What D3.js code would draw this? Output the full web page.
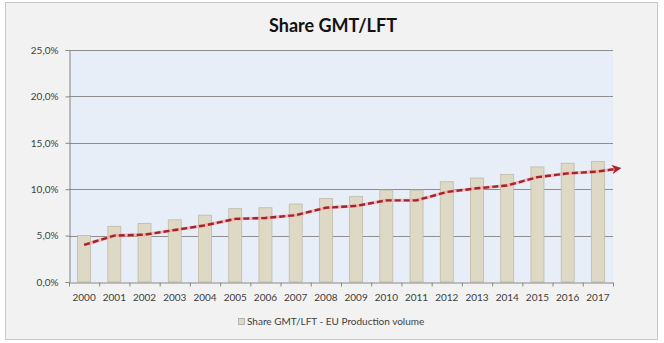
<!DOCTYPE html>
<html>
<head>
<meta charset="utf-8">
<script src="https://cdn.jsdelivr.net/npm/d3@7"></script>
<style>
  html, body { margin: 0; padding: 0; background: #ffffff; }
  svg { display: block; }
</style>
</head>
<body>
<svg id="chart" width="664" height="343"></svg>
<script>
// ---- data ----
const years = ["2000","2001","2002","2003","2004","2005","2006","2007","2008","2009",
               "2010","2011","2012","2013","2014","2015","2016","2017"];
const shareValues = [0.050,0.060,0.063,0.067,0.072,0.079,0.080,0.084,0.090,0.092,
                     0.099,0.099,0.108,0.112,0.116,0.124,0.128,0.130];
const trendValues = [0.040,0.050,0.051,0.056,0.061,0.068,0.069,0.072,0.080,0.082,
                     0.088,0.088,0.097,0.101,0.104,0.113,0.117,0.119];
const trendArrowEnd = 0.122;
const yTicks = [0, 0.05, 0.10, 0.15, 0.20, 0.25];
const title = "Share GMT/LFT";
const legendLabel = "Share GMT/LFT - EU Production volume";

// ---- layout ----
const svg = d3.select("#chart");
const font = "Lato, 'Open Sans', 'DejaVu Sans', sans-serif";
const plot = { left: 69, right: 613, top: 50, bottom: 282 };

const locale = d3.formatLocale({ decimal: ",", thousands: ".", grouping: [3], currency: ["", "€"], percent: "%" });
const fmt = locale.format(".1%");

// chart frame
svg.append("rect").attr("x", 5.5).attr("y", 2.5).attr("width", 652).attr("height", 337)
  .attr("fill", "#f2f2f2").attr("stroke", "#c8c8c8");

const x = d3.scaleBand().domain(years).range([plot.left, plot.right]).padding(0);
const y = d3.scaleLinear().domain([0, 0.25]).range([plot.bottom, plot.top]);

// plot area bg
svg.append("rect").attr("x", plot.left).attr("y", plot.top)
  .attr("width", plot.right - plot.left).attr("height", plot.bottom - plot.top)
  .attr("fill", "#e7eef8");

// gridlines
svg.append("g").selectAll("line").data(yTicks.slice(1)).join("line")
  .attr("x1", plot.left).attr("x2", plot.right)
  .attr("y1", d => Math.round(y(d)) + 0.5).attr("y2", d => Math.round(y(d)) + 0.5)
  .attr("stroke", "#8e8e8e").attr("stroke-width", 1);

// bars
const barW = x.bandwidth() * 0.43;
svg.append("g").selectAll("rect").data(shareValues).join("rect")
  .attr("x", (d, i) => x(years[i]) + (x.bandwidth() - barW) / 2)
  .attr("y", d => y(d))
  .attr("width", barW)
  .attr("height", d => y(0) - y(d))
  .attr("fill", "#ddd9c4").attr("stroke", "#bdbaa8").attr("stroke-width", 0.8);

// y axis
const yAxis = d3.axisLeft(y).tickValues(yTicks).tickFormat(fmt).tickSize(4).tickPadding(7);
const gy = svg.append("g").attr("transform", `translate(${plot.left + 0.5},0)`).call(yAxis);
gy.select(".domain").attr("stroke", "#868686");
gy.selectAll(".tick line").attr("stroke", "#868686");
gy.selectAll(".tick text").attr("fill", "#404040").style("font-family", font).style("font-size", "10px");

// x axis
const xAxis = d3.axisBottom(x).tickSize(0).tickPadding(11);
const gx = svg.append("g").attr("transform", `translate(0,${plot.bottom + 0.5})`).call(xAxis);
gx.select(".domain").attr("stroke", "#868686");
gx.selectAll(".tick text").attr("fill", "#404040").style("font-family", font).style("font-size", "10px");
// category separator ticks
gx.append("g").selectAll("line").data(years.concat(["end"])).join("line")
  .attr("x1", (d, i) => plot.left + i * x.step() + 0.5)
  .attr("x2", (d, i) => plot.left + i * x.step() + 0.5)
  .attr("y1", 0).attr("y2", 4).attr("stroke", "#868686");

// trend line
const trendPts = trendValues.map((v, i) => [x(years[i]) + x.bandwidth() / 2, y(v)]);
trendPts.push([x(years[years.length - 1]) + x.bandwidth() / 2 + x.step() * 0.62, y(trendArrowEnd)]);
const line = d3.line();
svg.append("defs").append("marker")
  .attr("id", "arrow").attr("viewBox", "0 0 10 10").attr("refX", 5).attr("refY", 5)
  .attr("markerWidth", 4).attr("markerHeight", 4).attr("orient", "auto")
  .attr("markerUnits", "strokeWidth")
  .append("path").attr("d", "M0,0 L10,5 L0,10 L3,5 Z").attr("fill", "#b0202a");
svg.append("path").attr("d", line(trendPts.slice(0, -1).concat([trendPts[trendPts.length - 1]])))
  .attr("fill", "none").attr("stroke", "#f3a3a3").attr("stroke-width", 3.2).attr("stroke-opacity", 0.7);
svg.append("path").attr("d", line(trendPts))
  .attr("fill", "none").attr("stroke", "#a3232b").attr("stroke-width", 2.4)
  .attr("stroke-dasharray", "6,3").attr("marker-end", "url(#arrow)");

// title
svg.append("text").attr("x", 333).attr("y", 32).attr("text-anchor", "middle")
  .style("font-family", font).style("font-weight", "bold").style("font-size", "18px")
  .attr("fill", "#111").text(title);

// legend
const lg = svg.append("g");
lg.append("rect").attr("x", 238.5).attr("y", 318.5).attr("width", 6).attr("height", 6)
  .attr("fill", "#ddd9c4").attr("stroke", "#a8a8a8").attr("stroke-width", 0.8);
lg.append("text").attr("x", 247).attr("y", 325)
  .style("font-family", font).style("font-size", "10px").attr("fill", "#404040").text(legendLabel);
</script>
</body>
</html>
